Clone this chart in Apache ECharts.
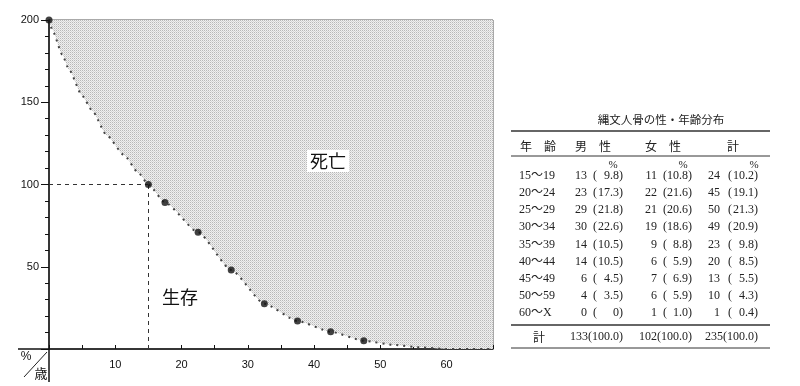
<!DOCTYPE html>
<html><head><meta charset="utf-8">
<script src="https://cdn.jsdelivr.net/npm/echarts@6/dist/echarts.min.js"></script>
<style>html,body{margin:0;padding:0;background:#fff}#c{width:800px;height:386px}</style>
</head><body><div id="c"></div>
<script>
// Survival curve (dotted line) — age (years) and survivors (%)
const curveAges   = [0, 0.5, 2, 3, 5, 6.5, 8.7, 11.3, 13.5, 15, 17.5, 22.5, 27.5, 32.5, 37.5, 42.5, 47.5, 52, 56, 60, 67];
const curveValues = [200, 194, 179, 170, 154, 145, 130, 118, 107, 100, 89, 71, 48, 27.5, 17, 10.5, 5, 2.5, 1, 0, 0];
// Large marked points
const dotAges   = [0, 15, 17.5, 22.5, 27.5, 32.5, 37.5, 42.5, 47.5];
const dotValues = [200, 100, 89, 71, 48, 27.5, 17, 10.5, 5];
// Reference line at age 15 / 100%
const refAge = 15, refValue = 100;

// Table data
const tableTitle = '縄文人骨の性・年齢分布';
const headers = ['年　齢', '男　性', '女　性', '計'];
const ageGroups = ['15～19','20～24','25～29','30～34','35～39','40～44','45～49','50～59','60～X'];
const maleN = [13,23,29,30,14,14,6,4,0];
const malePct = ['9.8','17.3','21.8','22.6','10.5','10.5','4.5','3.5','0'];
const femaleN = [11,22,21,19,9,6,7,6,1];
const femalePct = ['10.8','21.6','20.6','18.6','8.8','5.9','6.9','5.9','1.0'];
const totalN = [24,45,50,49,23,20,13,10,1];
const totalPct = ['10.2','19.1','21.3','20.9','9.8','8.5','5.5','4.3','0.4'];
const sumLabel = '計';
const sums = ['133(100.0)', '102(100.0)', '235(100.0)'];

const chart = echarts.init(document.getElementById('c'));

// halftone pattern for the shaded area
const pc = document.createElement('canvas');
pc.width = 2; pc.height = 2;
const g = pc.getContext('2d');
g.fillStyle = '#f0f0f0'; g.fillRect(0,0,2,2);
g.fillStyle = '#b8b8b8'; g.fillRect(0,0,1,1);
g.fillStyle = '#d6d6d6'; g.fillRect(1,1,1,1);

const tf = '"Liberation Serif","Noto Sans CJK JP",serif';
const jf = '"Noto Sans CJK JP",sans-serif';
const graphics = [];
function txt(x, y, s, align, size, font) {
  graphics.push({type:'text', z:100, x:x, y:y, style:{text:s, textAlign:align||'left', textVerticalAlign:'middle', fontSize:size||12, fontFamily:font||tf, fill:'#222'}});
}
function hline(y, x1, x2, w) {
  graphics.push({type:'line', z:100, shape:{x1:x1, y1:y, x2:x2, y2:y}, style:{stroke:'#333', lineWidth:w||1}});
}
// table
txt(661, 120, tableTitle, 'center', 11.5, jf);
hline(131, 511, 770, 1.5);
txt(520, 146, headers[0], 'left', 12, jf);
txt(575, 146, headers[1], 'left', 12, jf);
txt(645, 146, headers[2], 'left', 12, jf);
txt(733, 146, headers[3], 'center', 12, jf);
hline(156, 511, 770, 1);
[613, 683, 754].forEach(x => txt(x, 165, '%', 'center', 11, tf));
const cols = [
  {n:maleN, p:malePct, nx:587, ox:593, px:619},
  {n:femaleN, p:femalePct, nx:657, ox:663, px:688},
  {n:totalN, p:totalPct, nx:720, ox:728, px:754}
];
ageGroups.forEach((a, i) => {
  const y = 176 + i * 17.1;
  txt(519, y, a, 'left', 12, tf);
  cols.forEach(c => {
    txt(c.nx, y, String(c.n[i]), 'right', 12, tf);
    txt(c.ox, y, '(', 'left', 12, tf);
    txt(c.px, y, c.p[i], 'right', 12, tf);
    txt(c.px, y, ')', 'left', 12, tf);
  });
});
hline(325, 511, 770, 1.5);
txt(539, 337, sumLabel, 'center', 12, jf);
[623, 692, 758].forEach((x, i) => txt(x, 337, sums[i], 'right', 12, tf));
hline(348, 511, 770, 1);
// region labels
graphics.push({type:'text', z:100, x:328, y:161, style:{text:'死亡', textAlign:'center', textVerticalAlign:'middle', fontSize:18, fontFamily:jf, fill:'#111', backgroundColor:'#fff', padding:[2,3]}});
graphics.push({type:'text', z:100, x:180, y:297, style:{text:'生存', textAlign:'center', textVerticalAlign:'middle', fontSize:18, fontFamily:jf, fill:'#111'}});
// corner unit label
graphics.push({type:'text', z:100, x:26, y:357, style:{text:'%', textAlign:'center', textVerticalAlign:'middle', fontSize:12, fontFamily:'"Liberation Sans",sans-serif', fill:'#111'}});
graphics.push({type:'text', z:100, x:41, y:373, style:{text:'歳', textAlign:'center', textVerticalAlign:'middle', fontSize:13, fontFamily:jf, fill:'#111'}});
graphics.push({type:'line', z:100, shape:{x1:24, y1:377, x2:47, y2:352}, style:{stroke:'#222', lineWidth:1}});
// axis extensions
graphics.push({type:'line', z:100, shape:{x1:18, y1:349, x2:49, y2:349}, style:{stroke:'#111', lineWidth:1.5}});
graphics.push({type:'line', z:100, shape:{x1:49, y1:349, x2:49, y2:382}, style:{stroke:'#111', lineWidth:1.5}});

chart.setOption({
  animation: false,
  grid: {left:49, right:307, top:20, bottom:37, show:true, borderColor:'#555', borderWidth:1},
  xAxis: {
    type:'value', min:0, max:67, interval:10,
    axisLine:{show:true, lineStyle:{color:'#111', width:1.5}},
    axisTick:{show:true, inside:true, length:4, lineStyle:{color:'#111'}},
    minorTick:{show:true, splitNumber:2, length:4, lineStyle:{color:'#111'}},
    splitLine:{show:false},
    axisLabel:{margin:10, fontSize:11, fontFamily:'"Liberation Sans",sans-serif', color:'#111', formatter:v => (v === 0 || v % 10 !== 0 ? '' : v)}
  },
  yAxis: {
    type:'value', min:0, max:200, interval:50,
    axisLine:{show:true, lineStyle:{color:'#111', width:1.5}},
    axisTick:{show:true, length:8, lineStyle:{color:'#111'}},
    minorTick:{show:true, splitNumber:5, length:4, lineStyle:{color:'#111'}},
    splitLine:{show:false},
    axisLabel:{margin:10, fontSize:11, fontFamily:'"Liberation Sans",sans-serif', color:'#111', formatter:v => (v === 0 ? '' : v)}
  },
  series: [
    {
      type:'line', data: curveAges.map((a, i) => [a, curveValues[i]]),
      showSymbol:false, smooth:0.2, smoothMonotone:'x',
      lineStyle:{color:'#444', width:2, type:[2,5]},
      areaStyle:{origin:'end', color:{image:pc, repeat:'repeat'}, opacity:1},
      z:2
    },
    {
      type:'scatter', data: dotAges.map((a, i) => [a, dotValues[i]]),
      symbolSize:7, itemStyle:{color:'#111'}, z:5,
      markLine:{
        silent:true, symbol:'none', label:{show:false},
        lineStyle:{color:'#333', width:1, type:[4,4]},
        data:[
          [{coord:[0, refValue]}, {coord:[refAge, refValue]}],
          [{coord:[refAge, 0]}, {coord:[refAge, refValue]}]
        ]
      }
    }
  ],
  graphic: graphics
});
</script>
</body></html>
